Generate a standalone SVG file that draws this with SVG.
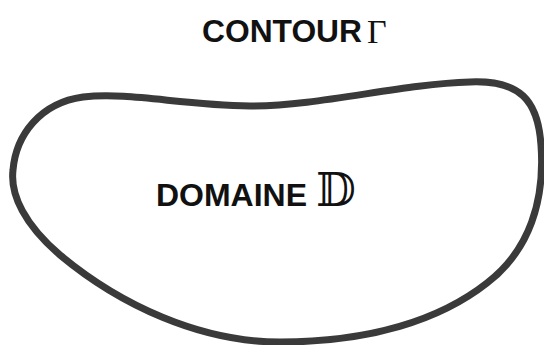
<svg xmlns="http://www.w3.org/2000/svg" width="544" height="345" viewBox="0 0 544 345">
<style>
.lbl{font-family:"Liberation Sans",Arial,sans-serif;font-weight:bold;fill:#111}
.sym{font-family:"Liberation Serif","DejaVu Serif","DejaVu Sans",serif;fill:#111}
.contour{fill:none;stroke:#3a3a3a;stroke-width:7;stroke-linejoin:round}
</style>
<rect width="544" height="345" fill="#fff"/>
<g id="contour">
<path class="contour" d="M 83,97 C 130,92 180,105 250,106 C 320,106 400,84 470,82 C 520,80 538,100 541,145 C 545,200 530,250 487,283 C 440,320 370,342 280,342 C 200,342 120,305 60,255 C 25,225 10,195 13,170 C 16,135 40,103 83,97 Z"/>
</g>
<g id="label-contour">
<text class="lbl" x="202" y="42" font-size="31" textLength="160" lengthAdjust="spacingAndGlyphs">CONTOUR</text>
<text class="sym" x="367" y="43" font-size="34">Γ</text>
</g>
<g id="label-domaine">
<text class="lbl" x="156" y="206" font-size="31" textLength="151" lengthAdjust="spacingAndGlyphs">DOMAINE</text>
<text class="sym" x="316" y="206" font-size="46">𝔻</text>
</g>
</svg>
